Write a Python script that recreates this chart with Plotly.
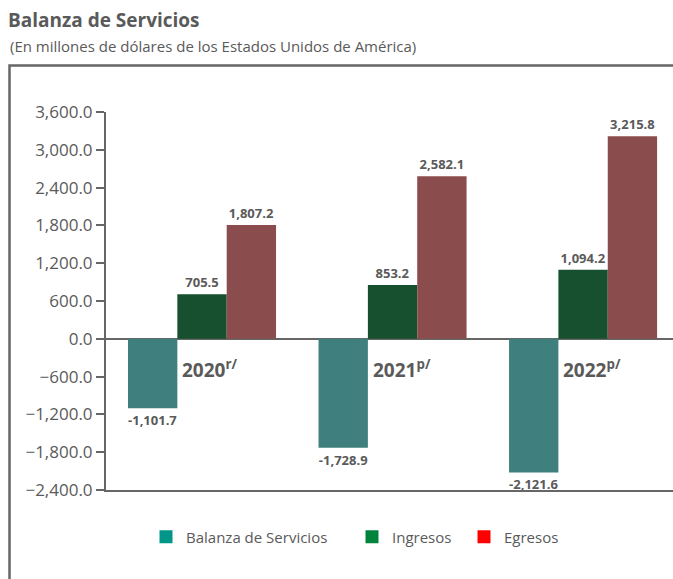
import plotly.graph_objects as go

categories = ["2020", "2021", "2022"]
category_labels = ["2020<sup>r/</sup>", "2021<sup>p/</sup>", "2022<sup>p/</sup>"]
balanza = [-1101.7, -1728.9, -2121.6]
ingresos = [705.5, 853.2, 1094.2]
egresos = [1807.2, 2582.1, 3215.8]
series_names = ["Balanza de Servicios", "Ingresos", "Egresos"]
bar_colors = ["#3F7F7D", "#16502E", "#8A4C4C"]
legend_colors = ["#009688", "#00843D", "#FF0000"]
y_ticks = [-2400, -1800, -1200, -600, 0, 600, 1200, 1800, 2400, 3000, 3600]

FONT = "Open Sans"
GRAY = "#5A5A5A"
LINE = "#666666"

W, H = 673, 579
ML, MR, MT, MB = 106, 0, 112, 89
pw = W - ML - MR
ph = H - MT - MB

def px_x(px):
    return (px - ML) / pw

def px_y(py):
    return (H - MB - py) / ph

fig = go.Figure()
for name, vals, col in zip(series_names, [balanza, ingresos, egresos], bar_colors):
    fig.add_trace(go.Bar(
        x=categories, y=vals, name=name, marker=dict(color=col, line=dict(width=0)),
        texttemplate="%{y:,.1f}", textposition="outside", cliponaxis=False,
        textfont=dict(family=FONT, size=13, color=GRAY, weight="bold"),
        showlegend=False,
    ))

legend_ids = ["legend", "legend2", "legend3"]
for name, col, lid in zip(series_names, legend_colors, legend_ids):
    fig.add_trace(go.Scatter(
        x=[None], y=[None], mode="markers", name=name,
        marker=dict(symbol="square", size=13, color=col),
        legend=lid, showlegend=True,
    ))

bargap = 0.223
bw = (1 - bargap) / 3
for i, lab in enumerate(category_labels):
    fig.add_annotation(
        x=i - bw / 2, y=0, xref="x", yref="y", text=lab, showarrow=False,
        xanchor="left", yanchor="middle", xshift=3, yshift=-30,
        font=dict(family=FONT, size=19, color=GRAY, weight="bold"),
    )

fig.add_annotation(
    x=px_x(8), y=px_y(46), xref="paper", yref="paper", xanchor="left", yanchor="middle",
    text="(En millones de dólares de los Estados Unidos de América)", showarrow=False,
    font=dict(family=FONT, size=15, color=GRAY),
)

fig.add_shape(type="rect", xref="paper", yref="paper",
              x0=px_x(9.5), x1=px_x(W + 20), y0=px_y(H + 20), y1=px_y(65.5),
              line=dict(color=LINE, width=2.5), fillcolor="rgba(0,0,0,0)", layer="below")

legend_common = dict(orientation="h", yanchor="middle", xanchor="left", y=px_y(537),
                     font=dict(family=FONT, size=15, color=GRAY), bgcolor="rgba(0,0,0,0)")
fig.update_layout(
    width=W, height=H,
    margin=dict(l=ML, r=MR, t=MT, b=MB),
    paper_bgcolor="white", plot_bgcolor="white",
    barmode="group", bargap=bargap, bargroupgap=0,
    title=dict(text="<b>Balanza de Servicios</b>", x=8 / W, xanchor="left", xref="container",
               y=1 - 20 / H, yanchor="middle", yref="container",
               font=dict(family=FONT, size=19, color=GRAY)),
    legend=dict(x=px_x(146), **legend_common),
    legend2=dict(x=px_x(352), **legend_common),
    legend3=dict(x=px_x(464), **legend_common),
    xaxis=dict(type="category", range=[-0.504, 2.472], showticklabels=False, ticks="",
               showline=True, linecolor=LINE, linewidth=2, showgrid=False, zeroline=False),
    yaxis=dict(range=[-2400, 3600], tickvals=y_ticks, tickformat=",.1f",
               ticks="outside", ticklen=8, tickwidth=2, tickcolor=LINE,
               showline=True, linecolor=LINE, linewidth=2, showgrid=False,
               zeroline=True, zerolinecolor=LINE, zerolinewidth=2,
               tickfont=dict(family=FONT, size=17, color=GRAY)),
)

fig.write_html("out.html", config={"displayModeBar": False},
               post_script="document.body.style.margin='0';document.body.style.overflow='hidden';")
